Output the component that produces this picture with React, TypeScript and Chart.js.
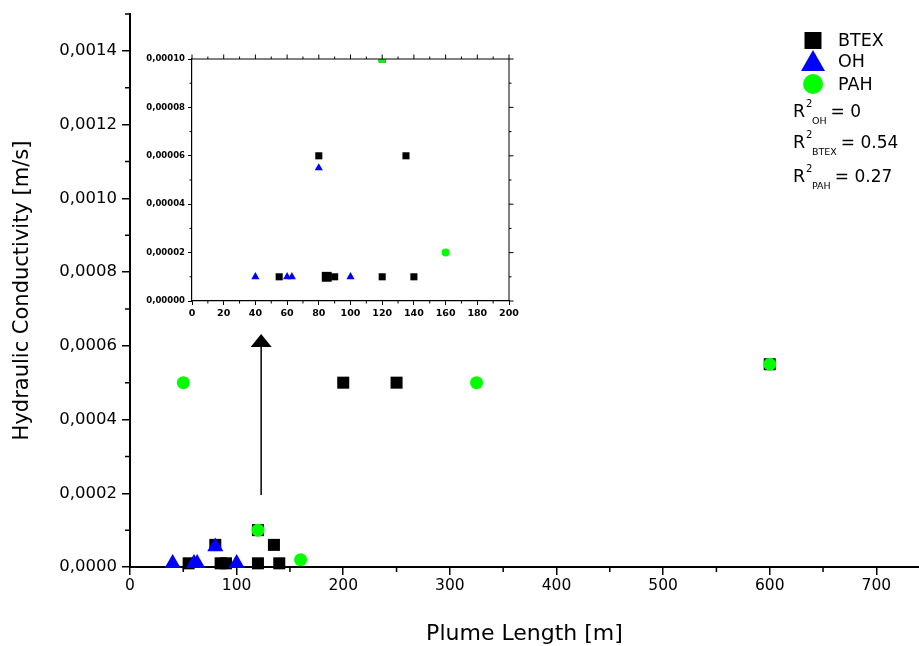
import React, { useEffect, useRef } from 'react';
import { Chart, registerables } from 'chart.js';

Chart.register(...registerables);

// ---- data ----
const btexX = [55, 80, 85, 90, 120, 120, 135, 140, 200, 250, 600];
const btexY = [0.00001, 0.00006, 0.00001, 0.00001, 0.00001, 0.0001, 0.00006, 0.00001, 0.0005, 0.0005, 0.00055];
const ohX = [40, 60, 63, 80, 100];
const ohY = [0.00001, 0.00001, 0.00001, 0.000055, 0.00001];
const pahX = [50, 120, 160, 325, 600];
const pahY = [0.0005, 0.0001, 0.00002, 0.0005, 0.00055];

const mainXTicks = [0, 100, 200, 300, 400, 500, 600, 700];
const mainXMinor = [50, 150, 250, 350, 450, 550, 650];
const mainYTicks = [0, 0.0002, 0.0004, 0.0006, 0.0008, 0.001, 0.0012, 0.0014];
const mainYMinor = [0.0001, 0.0003, 0.0005, 0.0007, 0.0009, 0.0011, 0.0013, 0.0015];

const insetXTicks = [0, 20, 40, 60, 80, 100, 120, 140, 160, 180, 200];
const insetXMinor = [10, 30, 50, 70, 90, 110, 130, 150, 170, 190];
const insetYTicks = [0, 0.00002, 0.00004, 0.00006, 0.00008, 0.0001];
const insetYMinor = [0.00001, 0.00003, 0.00005, 0.00007, 0.00009];

const seriesNames = ['BTEX', 'OH', 'PAH'];
const r2Labels = [
  { sub: 'OH', value: '0' },
  { sub: 'BTEX', value: '0.54' },
  { sub: 'PAH', value: '0.27' },
];
const arrowX = 123;
const arrowFrom = 0.000195;
const arrowTo = 0.000632;

const FONT = 'DejaVu Sans';
const BLACK = '#000000';
const BLUE = '#0000ff';
const GREEN = '#00ff00';

const pts = (xs: number[], ys: number[]) => xs.map((x, i) => ({ x, y: ys[i] }));

function minorTicksPlugin(xMinor: number[], yMinor: number[], len: number, mirror: boolean) {
  return {
    id: 'minorTicks',
    afterDraw(chart: any) {
      const { ctx, chartArea, scales } = chart;
      const xs = scales.x;
      const ys = scales.y;
      ctx.save();
      ctx.strokeStyle = BLACK;
      ctx.lineWidth = mirror ? 1 : 1.5;
      ctx.beginPath();
      yMinor.forEach((v) => {
        const p = ys.getPixelForValue(v);
        if (p < chartArea.top - 1) return;
        ctx.moveTo(chartArea.left - len, p);
        ctx.lineTo(chartArea.left, p);
        if (mirror) {
          ctx.moveTo(chartArea.right, p);
          ctx.lineTo(chartArea.right + len, p);
        }
      });
      xMinor.forEach((v) => {
        const p = xs.getPixelForValue(v);
        if (p > chartArea.right + 1) return;
        ctx.moveTo(p, chartArea.bottom);
        ctx.lineTo(p, chartArea.bottom + len);
        if (mirror) {
          ctx.moveTo(p, chartArea.top - len);
          ctx.lineTo(p, chartArea.top);
        }
      });
      ctx.stroke();
      if (mirror) {
        const major = len + 2;
        ctx.beginPath();
        ctx.moveTo(chartArea.left, chartArea.top);
        ctx.lineTo(chartArea.right, chartArea.top);
        ctx.lineTo(chartArea.right, chartArea.bottom);
        xs.ticks.forEach((t: any) => {
          const p = xs.getPixelForValue(t.value);
          ctx.moveTo(p, chartArea.top - major);
          ctx.lineTo(p, chartArea.top);
        });
        ys.ticks.forEach((t: any) => {
          const p = ys.getPixelForValue(t.value);
          ctx.moveTo(chartArea.right, p);
          ctx.lineTo(chartArea.right + major, p);
        });
        ctx.stroke();
      }
      ctx.restore();
    },
  };
}

const annotationsPlugin = {
  id: 'annotations',
  afterDraw(chart: any) {
    const { ctx, scales } = chart;
    const xs = scales.x;
    const ys = scales.y;
    ctx.save();
    // arrow
    const ax = xs.getPixelForValue(arrowX);
    const y0 = ys.getPixelForValue(arrowFrom);
    const y1 = ys.getPixelForValue(arrowTo);
    ctx.strokeStyle = BLACK;
    ctx.lineWidth = 1.5;
    ctx.beginPath();
    ctx.moveTo(ax, y0);
    ctx.lineTo(ax, y1 + 12);
    ctx.stroke();
    ctx.fillStyle = BLACK;
    ctx.beginPath();
    ctx.moveTo(ax, y1);
    ctx.lineTo(ax + 10.5, y1 + 13);
    ctx.lineTo(ax - 10.5, y1 + 13);
    ctx.closePath();
    ctx.fill();

    // legend
    const ds = chart.data.datasets;
    const byName = (n: string) => ds.find((d: any) => d.label === n);
    const cx = 813;
    ctx.fillStyle = byName('BTEX').backgroundColor;
    ctx.fillRect(cx - 8.5, 32, 17, 17);
    ctx.fillStyle = byName('OH').backgroundColor;
    ctx.beginPath();
    ctx.moveTo(cx, 50);
    ctx.lineTo(cx + 12, 71);
    ctx.lineTo(cx - 12, 71);
    ctx.closePath();
    ctx.fill();
    ctx.fillStyle = byName('PAH').backgroundColor;
    ctx.beginPath();
    ctx.arc(cx, 84, 10, 0, Math.PI * 2);
    ctx.fill();

    ctx.fillStyle = BLACK;
    ctx.textBaseline = 'middle';
    ctx.textAlign = 'left';
    ctx.font = `17.5px "${FONT}"`;
    const rows = [41.5, 62, 85];
    seriesNames.forEach((n, i) => ctx.fillText(n, 838, rows[i]));

    // R^2 annotations
    ctx.textBaseline = 'alphabetic';
    const bases = [117, 148, 182];
    r2Labels.forEach((r, i) => {
      const b = bases[i];
      ctx.font = `17.5px "${FONT}"`;
      ctx.fillText('R', 793, b);
      ctx.font = `10px "${FONT}"`;
      ctx.fillText('2', 806, b - 10);
      ctx.font = `9.5px "${FONT}"`;
      ctx.fillText(r.sub, 812, b + 7);
      const w = ctx.measureText(r.sub).width;
      ctx.font = `17px "${FONT}"`;
      ctx.fillText('= ' + r.value, 812 + w + 4, b);
    });
    ctx.restore();
  },
};

function makeDatasets(inset: boolean) {
  return [
    {
      label: 'PAH',
      data: pts(pahX, pahY),
      pointStyle: 'circle',
      pointRadius: inset ? 4 : 6.5,
      backgroundColor: GREEN,
      borderWidth: 0,
      pointBorderWidth: 0,
      showLine: false,
      clip: inset ? 0 : false,
    },
    {
      label: 'OH',
      data: pts(ohX, ohY),
      pointStyle: 'triangle',
      pointRadius: inset ? 4.7 : 9.3,
      backgroundColor: BLUE,
      borderWidth: 0,
      pointBorderWidth: 0,
      showLine: false,
      clip: inset ? 0 : false,
    },
    {
      label: 'BTEX',
      data: pts(btexX, btexY),
      pointStyle: 'rect',
      pointRadius: inset ? (c: any) => (c.raw && c.raw.x === 85 ? 7 : 5) : 8.5,
      backgroundColor: BLACK,
      borderWidth: 0,
      pointBorderWidth: 0,
      showLine: false,
      clip: inset ? 0 : false,
    },
  ];
}

const noPadH = (s: any) => {
  s.paddingLeft = 0;
  s.paddingRight = 0;
};
const noPadV = (s: any) => {
  s.paddingTop = 0;
  s.paddingBottom = 0;
};

function MainChart() {
  const ref = useRef<HTMLCanvasElement>(null);
  useEffect(() => {
    if (!ref.current) return;
    const chart = new Chart(ref.current, {
      type: 'scatter',
      data: { datasets: makeDatasets(false) as any },
      options: {
        responsive: false,
        animation: false,
        events: [],
        layout: { autoPadding: false, padding: { top: 14, right: 0, left: 0, bottom: 0 } },
        plugins: { legend: { display: false }, tooltip: { enabled: false } },
        scales: {
          x: {
            type: 'linear',
            min: 0,
            max: 740,
            afterBuildTicks: (s: any) => {
              s.ticks = mainXTicks.map((v) => ({ value: v }));
            },
            afterFit: (s: any) => {
              s.height = 79;
              noPadH(s);
            },
            grid: { display: true, drawOnChartArea: false, drawTicks: true, tickLength: 8, color: BLACK, lineWidth: 1.5 },
            border: { display: true, color: BLACK, width: 2 },
            ticks: {
              color: BLACK,
              font: { family: FONT, size: 15.5 },
              padding: 2,
              maxRotation: 0,
              autoSkip: false,
              callback: (v: any) => String(v),
            },
            title: {
              display: true,
              text: 'Plume Length [m]',
              color: BLACK,
              font: { family: FONT, size: 22, lineHeight: 1.1 },
              padding: { top: 0, bottom: 0 },
            },
          },
          y: {
            type: 'linear',
            min: 0,
            max: 0.0015,
            afterBuildTicks: (s: any) => {
              s.ticks = mainYTicks.map((v) => ({ value: v }));
            },
            afterFit: (s: any) => {
              s.width = 130;
              noPadV(s);
            },
            grid: { display: true, drawOnChartArea: false, drawTicks: true, tickLength: 8, color: BLACK, lineWidth: 1.5 },
            border: { display: true, color: BLACK, width: 2 },
            ticks: {
              color: BLACK,
              font: { family: FONT, size: 16.5 },
              padding: 5,
              autoSkip: false,
              callback: (v: any) => Number(v).toFixed(4).replace('.', ','),
            },
            title: {
              display: true,
              text: 'Hydraulic Conductivity [m/s]',
              color: BLACK,
              font: { family: FONT, size: 21, lineHeight: 1.2 },
              padding: { top: 10, bottom: 0 },
            },
          },
        },
      } as any,
      plugins: [minorTicksPlugin(mainXMinor, mainYMinor, 5, false), annotationsPlugin],
    });
    return () => chart.destroy();
  }, []);
  return <canvas ref={ref} width={919} height={646} style={{ position: 'absolute', left: 0, top: 0 }} />;
}

function InsetChart() {
  const ref = useRef<HTMLCanvasElement>(null);
  useEffect(() => {
    if (!ref.current) return;
    const chart = new Chart(ref.current, {
      type: 'scatter',
      data: { datasets: makeDatasets(true) as any },
      options: {
        responsive: false,
        animation: false,
        events: [],
        layout: { autoPadding: false, padding: { top: 19, right: 11, left: 0, bottom: 0 } },
        plugins: { legend: { display: false }, tooltip: { enabled: false } },
        scales: {
          x: {
            type: 'linear',
            min: 0,
            max: 200,
            afterBuildTicks: (s: any) => {
              s.ticks = insetXTicks.map((v) => ({ value: v }));
            },
            afterFit: (s: any) => {
              s.height = 29;
              noPadH(s);
            },
            grid: { display: true, drawOnChartArea: false, drawTicks: true, tickLength: 4, color: BLACK, lineWidth: 1 },
            border: { display: true, color: BLACK, width: 1.2 },
            ticks: {
              color: BLACK,
              font: { family: FONT, size: 9.5, weight: 'bold' },
              padding: 3,
              maxRotation: 0,
              autoSkip: false,
              callback: (v: any) => String(v),
            },
          },
          y: {
            type: 'linear',
            min: 0,
            max: 0.0001,
            afterBuildTicks: (s: any) => {
              s.ticks = insetYTicks.map((v) => ({ value: v }));
            },
            afterFit: (s: any) => {
              s.width = 52;
              noPadV(s);
            },
            grid: { display: true, drawOnChartArea: false, drawTicks: true, tickLength: 4, color: BLACK, lineWidth: 1 },
            border: { display: true, color: BLACK, width: 1.2 },
            ticks: {
              color: BLACK,
              font: { family: FONT, size: 8.5, weight: 'bold' },
              padding: 3,
              autoSkip: false,
              callback: (v: any) => Number(v).toFixed(5).replace('.', ','),
            },
          },
        },
      } as any,
      plugins: [minorTicksPlugin(insetXMinor, insetYMinor, 2.5, true)],
    });
    return () => chart.destroy();
  }, []);
  return <canvas ref={ref} width={380} height={290} style={{ position: 'absolute', left: 140, top: 40 }} />;
}

export default function App() {
  return (
    <div
      style={{
        position: 'fixed',
        left: 0,
        top: 0,
        width: 919,
        height: 646,
        overflow: 'hidden',
        background: '#ffffff',
      }}
    >
      <MainChart />
      <InsetChart />
    </div>
  );
}
